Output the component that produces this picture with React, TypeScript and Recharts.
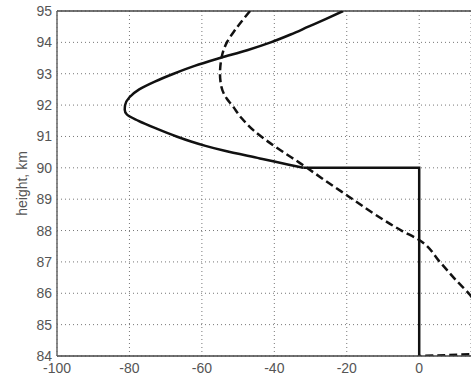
import {
  LineChart,
  Line,
  XAxis,
  YAxis,
  CartesianGrid,
  ReferenceLine,
} from 'recharts';

// solid profile: height (km) -> value
const solidHeights = [
  95, 94.75, 94.5, 94.25, 94, 93.75, 93.5, 93.25, 93, 92.75, 92.5, 92.25, 92,
  91.85, 91.7, 91.5, 91.25, 91, 90.84, 90.7, 90.55, 90.3, 90.2, 90,
];
const solidValues = [
  -21, -25.7, -30.6, -35.5, -41, -47.5, -55, -62, -67.8, -73, -77.3, -80,
  -81.2, -81.3, -80.7, -77.5, -72.5, -67, -63, -59, -54, -44, -40, -32,
];
// the step at 90 km down to the bottom
const stepHeights = [90, 90, 84];
const stepValues = [-32, 0, 0];

// dashed profile
const dashedHeights = [
  95, 94.4, 94, 93.55, 93, 92.63, 92.2, 92, 91.58, 91.2, 90.9, 90.5, 90.15, 90,
  89.67, 89.08, 88.5, 88, 87.7, 87, 86.4, 85.95, 85.5, 85, 84.5, 84.1, 84,
];
const dashedValues = [
  -46.7, -50.8, -53.1, -54.5, -55, -54.7, -53.1, -51.7, -49, -45.8, -42.5, -37.5,
  -32.9, -31, -26.9, -19.4, -12, -4.9, 0, 5.7, 10.3, 14, 16.5, 18, 18.5, 18.5, 0,
];

const xTicks = [-100, -80, -60, -40, -20, 0];
const yTicks = [84, 85, 86, 87, 88, 89, 90, 91, 92, 93, 94, 95];

const solid = solidHeights.map((h, i) => ({ h, x: solidValues[i] }));
const step = stepHeights.map((h, i) => ({ h, x: stepValues[i] }));
const dashed = dashedHeights.map((h, i) => ({ h, x: dashedValues[i] }));

const font = 'Liberation Sans, Arial, sans-serif';
const tickStyle = { fontSize: 14, fill: '#555', fontFamily: font };

export default function App() {
  return (
    <div style={{ position: 'absolute', left: 0, top: 0, background: '#fff' }}>
      <LineChart
        layout="vertical"
        width={471}
        height={378}
        margin={{ top: 11, right: 0, bottom: 0, left: 0 }}
      >
        <CartesianGrid stroke="#777" strokeDasharray="1 3" />
        <XAxis
          type="number"
          dataKey="x"
          domain={[-100, 14.3]}
          ticks={xTicks}
          allowDataOverflow
          tickLine={false}
          tickSize={4}
          tickMargin={3}
          height={22}
          tick={tickStyle}
          axisLine={{ stroke: '#444', strokeWidth: 1.5 }}
        />
        <YAxis
          type="number"
          dataKey="h"
          domain={[84, 95]}
          ticks={yTicks}
          reversed
          allowDataOverflow
          tickLine={false}
          tickSize={3}
          tickMargin={2}
          width={57}
          tick={tickStyle}
          axisLine={{ stroke: '#666', strokeWidth: 1.5 }}
          label={{
            value: 'height, km',
            angle: -90,
            position: 'insideLeft',
            offset: 22,
            style: { textAnchor: 'middle', fontSize: 14, fill: '#555', fontFamily: font },
          }}
        />
        <ReferenceLine y={95} stroke="#444" strokeWidth={1.5} />
        <Line
          data={dashed}
          dataKey="x"
          type="monotone"
          stroke="#111"
          strokeWidth={2.5}
          strokeDasharray="8 4"
          dot={false}
          isAnimationActive={false}
        />
        <Line
          data={solid}
          dataKey="x"
          type="monotone"
          stroke="#111"
          strokeWidth={2.5}
          dot={false}
          isAnimationActive={false}
        />
        <Line
          data={step}
          dataKey="x"
          type="linear"
          stroke="#111"
          strokeWidth={2.5}
          dot={false}
          isAnimationActive={false}
        />
      </LineChart>
    </div>
  );
}
